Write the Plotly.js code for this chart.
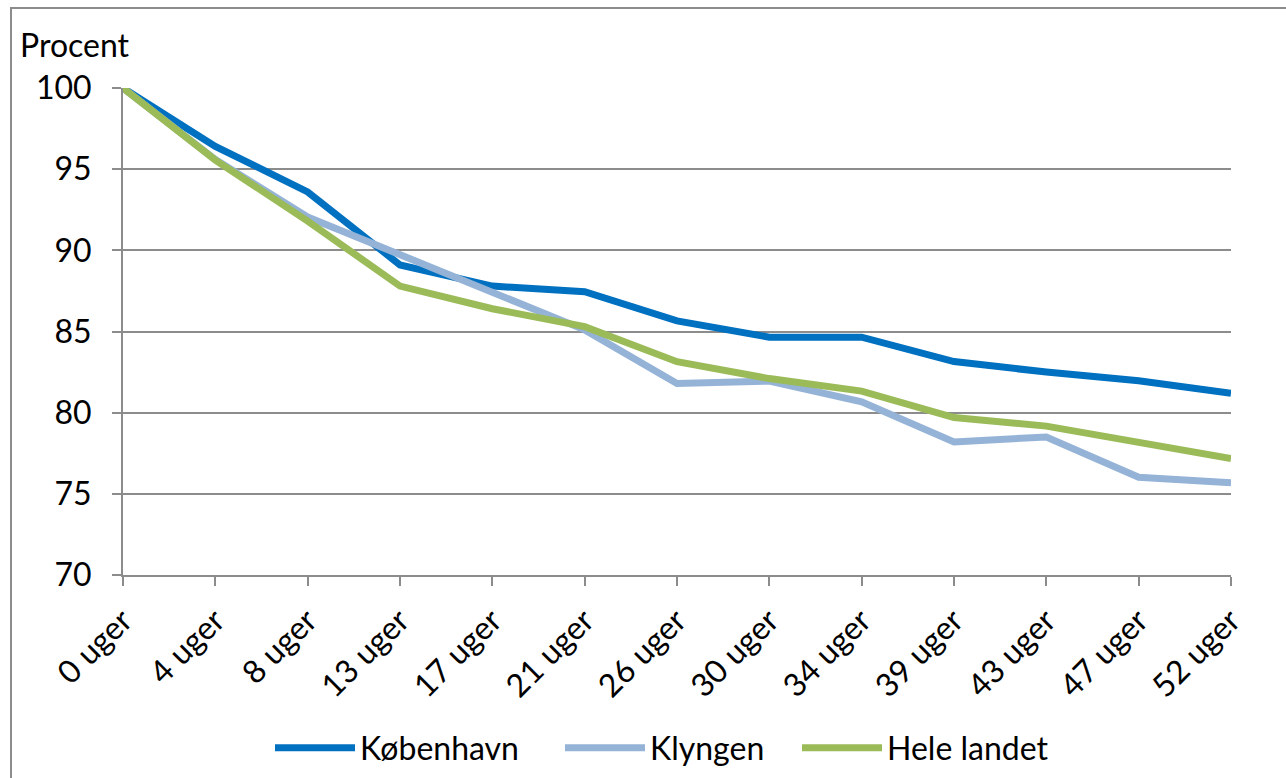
<!DOCTYPE html>
<html>
<head>
<meta charset="utf-8">
<script src="https://cdn.plot.ly/plotly-3.0.1.min.js"></script>
<style>
html,body{margin:0;padding:0;background:#fff;}
#frame{position:absolute;left:10px;top:7px;width:1290px;height:800px;border:2px solid #8c8c8c;box-sizing:border-box;pointer-events:none;}
#chart{width:1286px;height:778px;}
</style>
</head>
<body>
<div id="chart"></div>
<div id="frame"></div>
<script>
var categories = ["0 uger","4 uger","8 uger","13 uger","17 uger","21 uger","26 uger","30 uger","34 uger","39 uger","43 uger","47 uger","52 uger"];
var koebenhavn = [100, 96.4, 93.6, 89.1, 87.8, 87.45, 85.65, 84.65, 84.65, 83.15, 82.5, 81.97, 81.2];
var klyngen    = [100, 95.6, 92.05, 89.75, 87.5, 85.1, 81.8, 81.95, 80.67, 78.2, 78.5, 76.02, 75.68];
var heleLandet = [100, 95.56, 91.8, 87.8, 86.4, 85.3, 83.14, 82.1, 81.33, 79.7, 79.17, 78.2, 77.18];
var yTicks = [70, 75, 80, 85, 90, 95, 100];

var font = "Lato, 'Open Sans', sans-serif";
var FS = 32;
function tr(name, y, color, leg){
  return {type:'scatter', mode:'lines', name:name, x:categories, y:y, legend:leg,
          line:{color:color, width:7}};
}
var data = [
  tr('København', koebenhavn, '#0070C0', 'legend'),
  tr('Klyngen', klyngen, '#95B3D7', 'legend2'),
  tr('Hele landet', heleLandet, '#9BBB59', 'legend3')
];
function leg(xpx){
  return {orientation:'h', xref:'container', yref:'container', x:xpx/1286, xanchor:'left',
          y:30/778, yanchor:'middle', font:{size:FS}, itemwidth:80, bgcolor:'rgba(0,0,0,0)'};
}
var layout = {
  width:1286, height:778,
  margin:{l:123, r:55, t:88, b:203},
  paper_bgcolor:'#fff', plot_bgcolor:'#fff',
  font:{family:font, size:FS, color:'#000'},
  showlegend:true,
  legend:leg(270), legend2:leg(560), legend3:leg(797),
  xaxis:{type:'category', range:[0,12], showgrid:false, zeroline:false, automargin:false,
         showline:true, linecolor:'#8c8c8c', linewidth:2,
         ticks:'outside', ticklen:9, tickcolor:'#8c8c8c', tickwidth:2,
         tickangle:-45, tickfont:{size:FS}, ticklabelstandoff:3, fixedrange:true},
  yaxis:{range:[70,100], tickvals:yTicks, showgrid:true, gridcolor:'#8c8c8c', gridwidth:2,
         zeroline:false, showline:true, linecolor:'#8c8c8c', linewidth:2, automargin:false,
         ticks:'outside', ticklen:9, tickcolor:'#8c8c8c', tickwidth:2,
         tickfont:{size:FS}, ticklabelstandoff:14, fixedrange:true},
  annotations:[{text:'Procent', xref:'paper', yref:'paper', x:-0.095, y:1.089,
                xanchor:'left', yanchor:'middle', showarrow:false, font:{size:FS}}]
};
Plotly.newPlot('chart', data, layout, {displayModeBar:false, staticPlot:true});
</script>
</body>
</html>
